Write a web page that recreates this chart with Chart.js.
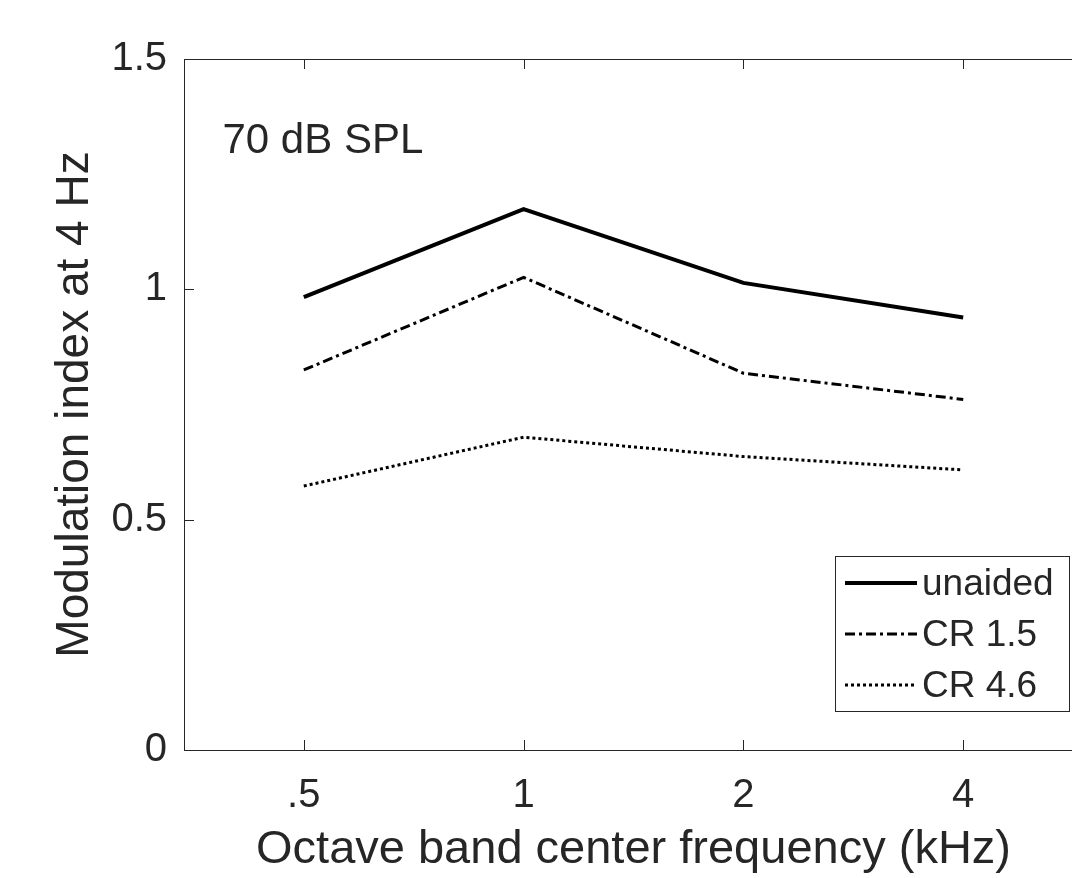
<!DOCTYPE html>
<html>
<head>
<meta charset="utf-8">
<script src="https://cdn.jsdelivr.net/npm/chart.js@4.4.0/dist/chart.umd.min.js"></script>
<style>
  html, body { margin: 0; padding: 0; background: #fff; overflow: hidden; }
  #wrap { width: 1072px; height: 878px; overflow: hidden; }
</style>
</head>
<body>
<div id="wrap"><canvas id="chart" width="1090" height="878"></canvas></div>
<script>
// values
const freqLabels = ['.5', '1', '2', '4'];
const unaided = [0.983, 1.174, 1.014, 0.939];
const cr15 = [0.825, 1.026, 0.818, 0.761];
const cr46 = [0.573, 0.679, 0.637, 0.608];
const yTicks = [0, 0.5, 1, 1.5];
const seriesNames = ['unaided', 'CR 1.5', 'CR 4.6'];
const panelNote = '70 dB SPL';

const ink = '#262626';
const fontFamily = '"Liberation Sans", Arial, Helvetica, sans-serif';

Chart.defaults.font.family = fontFamily;
Chart.defaults.color = ink;

const toPoints = vals => vals.map((v, i) => ({ x: i, y: v }));

// MATLAB style inward ticks on all drawn axes
const innerTicks = {
  id: 'innerTicks',
  afterDraw(chart) {
    const { ctx, chartArea: a, scales: { x, y } } = chart;
    ctx.save();
    ctx.strokeStyle = ink;
    ctx.lineWidth = 1;
    ctx.beginPath();
    freqLabels.forEach((_, i) => {
      const px = Math.round(x.getPixelForValue(i)) + 0.5;
      ctx.moveTo(px, a.bottom); ctx.lineTo(px, a.bottom - 10);
      ctx.moveTo(px, a.top); ctx.lineTo(px, a.top + 10);
    });
    yTicks.forEach(t => {
      const py = Math.round(y.getPixelForValue(t)) + 0.5;
      ctx.moveTo(a.left, py); ctx.lineTo(a.left + 10, py);
      ctx.moveTo(a.right, py); ctx.lineTo(a.right - 10, py);
    });
    ctx.stroke();
    // right box edge (sits outside the visible area)
    ctx.beginPath();
    ctx.moveTo(a.right + 0.5, a.top); ctx.lineTo(a.right + 0.5, a.bottom);
    ctx.stroke();
    ctx.restore();
  }
};

const noteAndLegend = {
  id: 'noteAndLegend',
  afterDraw(chart) {
    const { ctx, chartArea: a, scales: { x, y } } = chart;
    ctx.save();
    ctx.fillStyle = ink;
    ctx.font = '42px ' + fontFamily;
    ctx.textBaseline = 'alphabetic';
    ctx.fillText(panelNote, x.getPixelForValue(-0.37), y.getPixelForValue(1.296));

    // legend box, southeast
    const bw = 234, bh = 155;
    const bx = a.right - 14 - bw, by = a.bottom - 39 - bh;
    ctx.fillStyle = '#fff';
    ctx.fillRect(bx, by, bw, bh);
    ctx.strokeStyle = ink;
    ctx.lineWidth = 1;
    ctx.strokeRect(Math.round(bx) + 0.5, Math.round(by) + 0.5, bw, bh);
    ctx.font = '37px ' + fontFamily;
    ctx.textBaseline = 'middle';
    chart.data.datasets.forEach((ds, i) => {
      const cy = by + 27 + i * 51;
      ctx.save();
      ctx.strokeStyle = ds.borderColor;
      ctx.lineWidth = ds.borderWidth;
      ctx.setLineDash(ds.borderDash || []);
      ctx.beginPath();
      ctx.moveTo(bx + 10, cy); ctx.lineTo(bx + 82, cy);
      ctx.stroke();
      ctx.restore();
      ctx.fillStyle = ink;
      ctx.fillText(ds.label, bx + 87, cy + 2);
    });
    ctx.restore();
  }
};

new Chart(document.getElementById('chart'), {
  type: 'line',
  data: {
    datasets: [
      {
        label: seriesNames[0],
        data: toPoints(unaided),
        borderColor: '#000',
        borderWidth: 4,
        pointRadius: 0,
        tension: 0
      },
      {
        label: seriesNames[1],
        data: toPoints(cr15),
        borderColor: '#000',
        borderWidth: 3,
        borderDash: [10, 4, 3, 4],
        pointRadius: 0,
        tension: 0
      },
      {
        label: seriesNames[2],
        data: toPoints(cr46),
        borderColor: '#000',
        borderWidth: 3,
        borderDash: [3, 3],
        pointRadius: 0,
        tension: 0
      }
    ]
  },
  options: {
    responsive: false,
    animation: false,
    devicePixelRatio: 1,
    layout: { padding: { right: 7, left: 0, top: 0, bottom: 0 } },
    plugins: {
      legend: { display: false },
      tooltip: { enabled: false }
    },
    scales: {
      x: {
        type: 'linear',
        position: 'bottom',
        min: -0.545,
        max: 3.545,
        afterBuildTicks: s => { s.ticks = freqLabels.map((_, i) => ({ value: i })); },
        afterFit: s => { s.height = 128; },
        grid: { display: false, drawTicks: false },
        border: { display: true, color: ink, width: 1 },
        ticks: {
          callback: v => freqLabels[v],
          font: { size: 40 },
          padding: 22,
          maxRotation: 0,
          autoSkip: false
        },
        title: {
          display: true,
          text: 'Octave band center frequency (kHz)',
          font: { size: 47 },
          padding: { top: 0, bottom: 0 }
        }
      },
      xTop: {
        type: 'linear',
        position: 'top',
        min: -0.545,
        max: 3.545,
        afterFit: s => { s.height = 59; },
        grid: { display: false, drawTicks: false },
        border: { display: true, color: ink, width: 1 },
        ticks: { display: false }
      },
      y: {
        min: 0,
        max: 1.5,
        afterBuildTicks: s => { s.ticks = yTicks.map(v => ({ value: v })); },
        afterFit: s => { s.width = 184; },
        grid: { display: false, drawTicks: false },
        border: { display: true, color: ink, width: 1 },
        ticks: {
          callback: v => String(v),
          font: { size: 40 },
          padding: 17
        },
        title: {
          display: true,
          text: 'Modulation index at 4 Hz',
          font: { size: 46 },
          padding: { top: 48, bottom: 0 }
        }
      }
    }
  },
  plugins: [innerTicks, noteAndLegend]
});
</script>
</body>
</html>
